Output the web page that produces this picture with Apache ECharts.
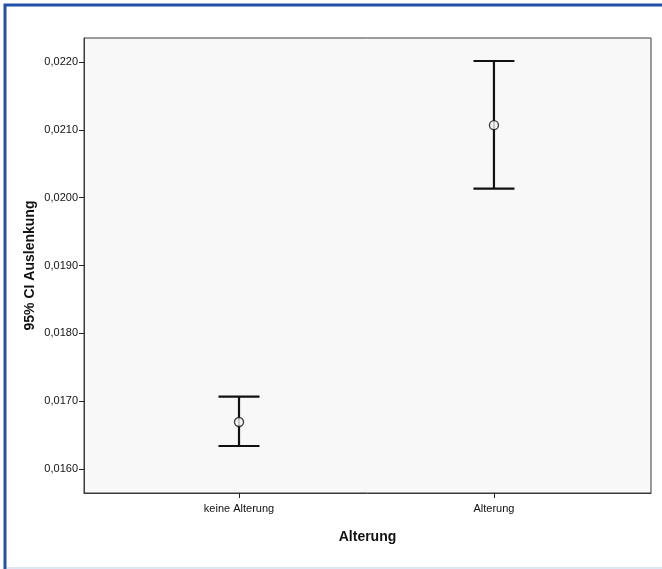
<!DOCTYPE html>
<html>
<head>
<meta charset="utf-8">
<script src="https://cdn.jsdelivr.net/npm/echarts@6/dist/echarts.min.js"></script>
<style>
html,body{margin:0;padding:0;background:#fff;}
#c{width:662px;height:569px;}
</style>
</head>
<body>
<div id="c"></div>
<script>
const categories = ['keine Alterung', 'Alterung'];
const means = [0.016693, 0.021069];
const lower = [0.016339, 0.020134];
const upper = [0.017066, 0.022015];
const yTicks = [0.016, 0.017, 0.018, 0.019, 0.020, 0.021, 0.022];
const xPositions = [1, 2];

const FONT = 'Arial, "Liberation Sans", sans-serif';
const chart = echarts.init(document.getElementById('c'), null, {renderer: 'canvas'});

const barData = categories.map((c, i) => [xPositions[i], lower[i], upper[i]]);
const meanData = categories.map((c, i) => [xPositions[i], means[i]]);

chart.setOption({
  backgroundColor: '#ffffff',
  animation: false,
  graphic: [
    {type: 'rect', shape: {x: 5, y: 5, width: 800, height: 800}, style: {fill: 'none', stroke: '#2150a6', lineWidth: 3}, z: 100},
    {type: 'line', shape: {x1: 7, y1: 568, x2: 662, y2: 568}, style: {stroke: '#dfe6f4', lineWidth: 2}, z: 100}
  ],
  grid: {left: 84, top: 38, right: 11, bottom: 76, show: true, backgroundColor: '#f8f8f8', borderColor: '#3a3a3a', borderWidth: 1},
  xAxis: {
    type: 'value', min: 0.392, max: 2.616,
    name: 'Alterung', nameLocation: 'middle', nameGap: 37,
    nameTextStyle: {fontFamily: FONT, fontSize: 14, fontWeight: 'bold', color: '#111'},
    axisLine: {show: true, lineStyle: {color: '#3a3a3a', width: 1}},
    axisTick: {show: true, length: 5, lineStyle: {color: '#222'}, customValues: xPositions},
    axisLabel: {show: true, customValues: xPositions, margin: 10, fontFamily: FONT, fontSize: 11, color: '#111',
      formatter: v => categories[xPositions.indexOf(Math.round(v))] || ''},
    splitLine: {show: false}
  },
  yAxis: {
    type: 'value', min: 0.015646, max: 0.022354,
    name: '95% CI Auslenkung', nameLocation: 'middle', nameGap: 47, nameMoveOverlap: false,
    nameTextStyle: {fontFamily: FONT, fontSize: 14, fontWeight: 'bold', color: '#111'},
    axisLine: {show: true, lineStyle: {color: '#3a3a3a', width: 1}},
    axisTick: {show: true, length: 5, lineStyle: {color: '#222'}, customValues: yTicks},
    axisLabel: {show: true, customValues: yTicks, margin: 6, fontFamily: FONT, fontSize: 11, color: '#111',
      formatter: v => v.toFixed(4).replace('.', ',')},
    splitLine: {show: false}
  },
  series: [
    {
      type: 'custom',
      data: barData,
      renderItem: function (params, api) {
        const x = api.value(0);
        const top = api.coord([x, api.value(2)]);
        const bot = api.coord([x, api.value(1)]);
        const hw = 20.5;
        const style = {stroke: '#111', lineWidth: 2.2};
        return {
          type: 'group',
          children: [
            {type: 'line', shape: {x1: top[0], y1: top[1], x2: bot[0], y2: bot[1]}, style: style},
            {type: 'line', shape: {x1: top[0] - hw, y1: top[1], x2: top[0] + hw, y2: top[1]}, style: style},
            {type: 'line', shape: {x1: bot[0] - hw, y1: bot[1], x2: bot[0] + hw, y2: bot[1]}, style: style}
          ]
        };
      },
      z: 2
    },
    {
      type: 'scatter',
      data: meanData,
      symbol: 'circle',
      symbolSize: 9,
      itemStyle: {color: '#f8f8f8', borderColor: '#111', borderWidth: 1.4},
      z: 3
    }
  ]
});
</script>
</body>
</html>
